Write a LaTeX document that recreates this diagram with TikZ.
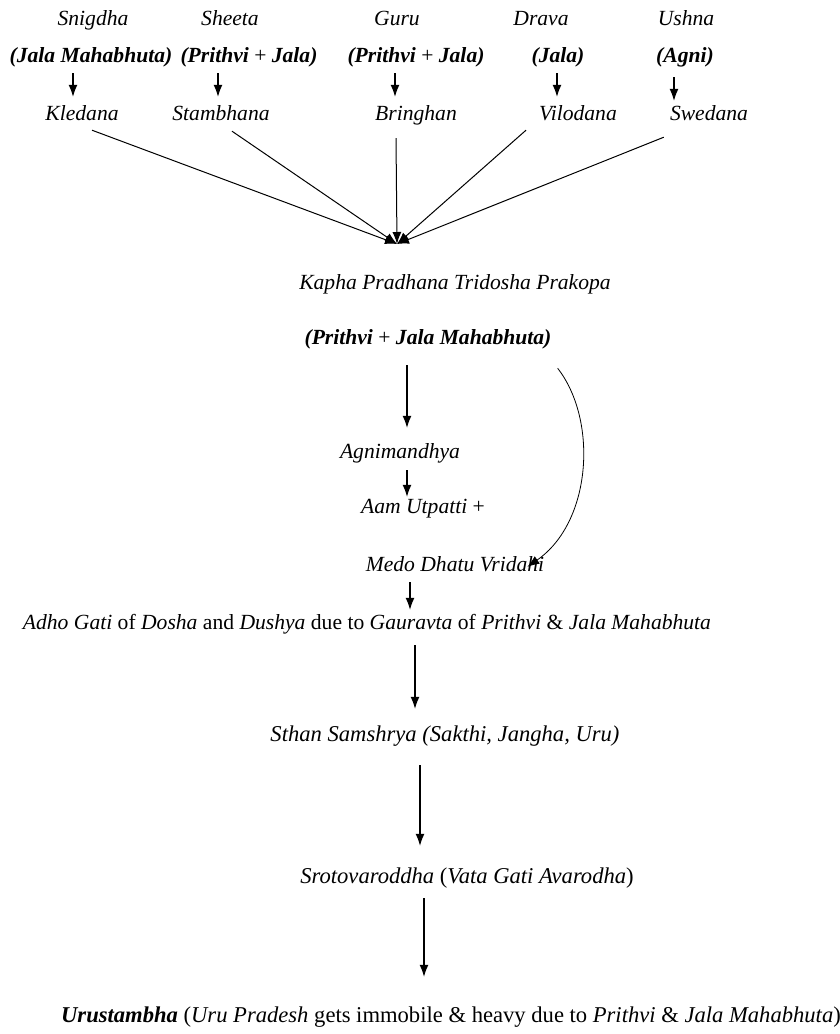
\documentclass[tikz,border=0pt]{standalone}
\usepackage{fontspec}
\setmainfont{Liberation Serif}
\usetikzlibrary{arrows.meta}

\begin{document}
\begin{tikzpicture} [
    x=1pt, y=-1pt,
    every node/.style={inner sep=1pt, text height=15pt, text depth=5pt},
    edge/.style={-{Latex[length=12pt, width=9pt]}, line width=1.1pt, color=black},
    guna/.style={font=\fontsize{21.6}{24}\selectfont\itshape},
    bhuta/.style={font=\fontsize{21.6}{24}\selectfont\bfseries\itshape},
    stage/.style={font=\fontsize{21.6}{24}\selectfont},
    bigStage/.style={font=\fontsize{22.6}{25}\selectfont}
]
\useasboundingbox (0,0) rectangle (840,1034);

% gunas
\node[guna] (snigdha) at (93, 20) {Snigdha};
\node[guna] (sheeta) at (230, 20) {Sheeta};
\node[guna] (guru) at (397, 20) {Guru};
\node[guna] (drava) at (541, 20) {Drava};
\node[guna] (ushna) at (686, 20) {Ushna};

% mahabhutas
\node[bhuta] (bhuta_jm) at (91, 57) {(Jala Mahabhuta)};
\node[bhuta] (bhuta_pj1) at (249, 57) {(Prithvi \textup{\mdseries+} Jala)};
\node[bhuta] (bhuta_pj2) at (416, 57) {(Prithvi \textup{\mdseries+} Jala)};
\node[bhuta] (bhuta_j) at (558, 57) {(Jala)};
\node[bhuta] (bhuta_a) at (685, 57) {(Agni)};

% karmas
\node[guna] (kledana) at (82, 115) {Kledana};
\node[guna] (stambhana) at (221, 115) {Stambhana};
\node[guna] (bringhan) at (416, 115) {Bringhan};
\node[guna] (vilodana) at (578, 115) {Vilodana};
\node[guna] (swedana) at (709, 115) {Swedana};

\draw[edge, shorten <=5pt, shorten >=7pt] (bhuta_jm.south -| 73, 0) -- (kledana.north -| 73, 0);
\draw[edge, shorten <=5pt, shorten >=7pt] (bhuta_pj1.south -| 218, 0) -- (stambhana.north -| 218, 0);
\draw[edge, shorten <=5pt, shorten >=7pt] (bhuta_pj2.south -| 395, 0) -- (bringhan.north -| 395, 0);
\draw[edge, shorten <=5pt, shorten >=7pt] (bhuta_j.south -| 557, 0) -- (vilodana.north -| 557, 0);
\draw[edge, shorten <=9pt, shorten >=3pt] (bhuta_a.south -| 674, 0) -- (swedana.north -| 674, 0);

\coordinate (fan_tip) at (397, 244);

\draw[edge, line width=1pt] ([shift={(10, 4)}]kledana.south) -- (fan_tip);
\draw[edge, line width=1pt] ([shift={(11, 5)}]stambhana.south) -- (fan_tip);
\draw[edge, line width=1pt] ([shift={(-20, 12)}]bringhan.south) -- (fan_tip);
\draw[edge, line width=1pt] ([shift={(-12, 4)}]vilodana.south west) -- (fan_tip);
\draw[edge, line width=1pt] ([shift={(-5, 11)}]swedana.south west) -- (fan_tip);

% prakopa
\node[guna] (prakopa) at (455, 284) {Kapha Pradhana Tridosha Prakopa};
\node[bhuta] (prithvi_jala) at (428, 339) {(Prithvi \textup{\mdseries+} Jala Mahabhuta)};

\node[guna] (agnimandhya) at (400, 453) {Agnimandhya};
\node[stage] (aam) at (423, 508) {\textit{Aam Utpatti} +};
\node[guna] (medo) at (455, 566) {Medo Dhatu Vridahi};

\draw[edge, shorten <=15pt, shorten >=14pt] (prithvi_jala.south -| 407, 0) -- (agnimandhya.north -| 407, 0);
\draw[edge, shorten <=6pt] (agnimandhya.south -| 407, 0) -- (aam.north -| 407, 0);
\draw[edge, line width=0.8pt] ([shift={(5, 18)}]prithvi_jala.south east) .. controls (598, 420) and (592, 522) .. ([shift={(-18, 12)}]medo.north east);

% progression
\node[stage] (adho_gati) at (367, 624) {\textit{Adho Gati} of \textit{Dosha} and \textit{Dushya} due to \textit{Gauravta} of \textit{Prithvi} \& \textit{Jala Mahabhuta}};
\node[bigStage] (sthan) at (445, 736) {\textit{Sthan Samshrya (Sakthi, Jangha, Uru)}};
\node[bigStage] (sroto) at (467, 878) {\textit{Srotovaroddha} (\textit{Vata Gati Avarodha})};
\node[bigStage] (urustambha) at (451, 1017) {\textbf{\textit{Urustambha}} (\textit{Uru Pradesh} gets immobile \& heavy due to \textit{Prithvi} \& \textit{Jala Mahabhuta})};

\draw[edge, shorten <=5pt, shorten >=3pt] (medo.south -| 410, 0) -- (adho_gati.north -| 410, 0);
\draw[edge, shorten <=10pt, shorten >=16pt] (adho_gati.south -| 415, 0) -- (sthan.north -| 415, 0);
\draw[edge, shorten <=18pt, shorten >=21pt] (sthan.south -| 420, 0) -- (sroto.north -| 420, 0);
\draw[edge, shorten <=9pt, shorten >=29pt] (sroto.south -| 424, 0) -- (urustambha.north -| 424, 0);

\end{tikzpicture}
\end{document}
